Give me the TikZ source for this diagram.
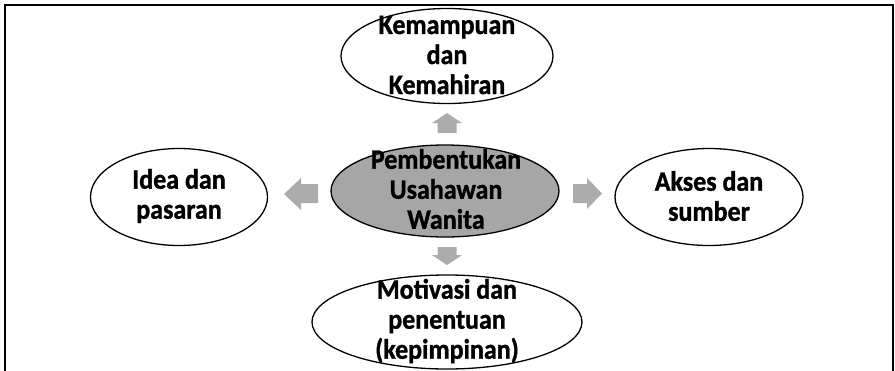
\documentclass[tikz,border=0pt]{standalone}
\usepackage{fontspec}
\setmainfont{Carlito}
\newfontfamily\heavyfont{Carlito Bold}[FakeBold=1.2]
\usetikzlibrary{shapes.geometric}
\definecolor{boxgray}{HTML}{A6A6A6}
\definecolor{arrowgray}{HTML}{ACACAC}
\tikzset{
  bubble/.style={draw=black, line width=1.3pt, ellipse, inner sep=0pt},
  label/.style={align=center, font=\heavyfont\fontsize{26}{27.8}\selectfont, inner sep=0pt, transform shape, yscale=1.08},
  blockarrow/.style={fill=arrowgray, draw=none},
}
\begin{document}
\begin{tikzpicture}[x=1pt,y=-1pt]
\useasboundingbox (0,0) rectangle (895,370);
\draw[line width=1.5pt] (5,400) -- (5,5) -- (893,5) -- (893,400);
% ellipses
\node[bubble, fill=white, minimum width=212pt, minimum height=95pt] (top) at (447,56) {};
\node[bubble, fill=boxgray, minimum width=228pt, minimum height=92pt] (mid) at (445,191) {};
\node[bubble, fill=white, minimum width=177pt, minimum height=97pt] (left) at (179,197) {};
\node[bubble, fill=white, minimum width=188pt, minimum height=97pt] (right) at (709,197) {};
\node[bubble, fill=white, minimum width=270pt, minimum height=94pt] (bot) at (447,322) {};
% labels
\node[label] (toptxt) at (447,55) {Kemampuan\\dan\\Kemahiran};
\node[label] (midtxt) at (446,189) {Pembentukan\\Usahawan\\Wanita};
\node[label] (lefttxt) at (179,196) {Idea dan\\pasaran};
\node[label] (righttxt) at (709,196) {Akses dan\\sumber};
\node[label] (bottxt) at (447,321) {Motivasi dan\\penentuan\\(kepimpinan)};
% block arrows
\fill[blockarrow] (437.5,133) -- (437.5,123) -- (432,123) -- (447,113) -- (462,123) -- (456.5,123) -- (456.5,133) -- cycle;
\fill[blockarrow] (437.5,247) -- (437.5,255) -- (432,255) -- (447,265) -- (462,255) -- (456.5,255) -- (456.5,247) -- cycle;
\fill[blockarrow] (318,184) -- (301,184) -- (301,178) -- (284,194) -- (301,210) -- (301,203) -- (318,203) -- cycle;
\fill[blockarrow] (573,184) -- (587,184) -- (587,178) -- (602,193.5) -- (587,209) -- (587,203) -- (573,203) -- cycle;
\end{tikzpicture}
\end{document}
